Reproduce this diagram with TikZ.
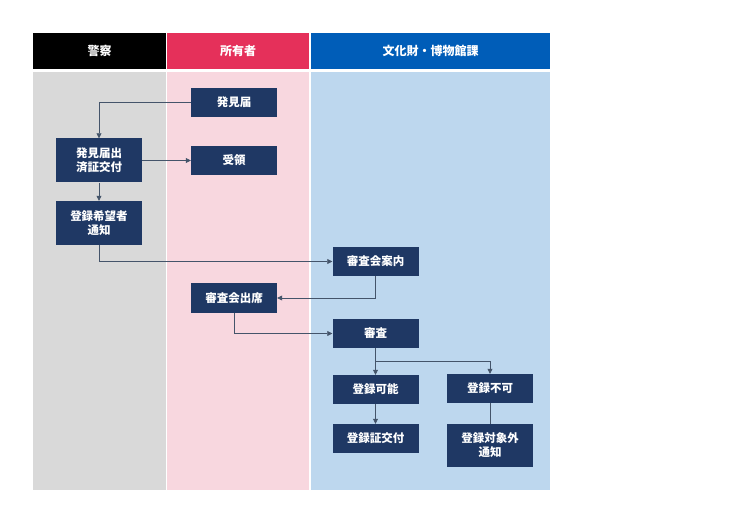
\documentclass[tikz,border=0pt]{standalone}
\usepackage{fontspec}
\newfontfamily\cjk{Noto Sans CJK JP}
\usetikzlibrary{arrows.meta}
\definecolor{navy}{HTML}{1F3864}
\definecolor{hdred}{HTML}{E5305A}
\definecolor{hdblue}{HTML}{005DB8}
\definecolor{bggray}{HTML}{D9D9D9}
\definecolor{bgpink}{HTML}{F8D7DF}
\definecolor{bgblue}{HTML}{BDD7EE}
\definecolor{linec}{HTML}{44546A}
\tikzset{
  box/.style={fill=navy, text=white, font=\cjk\bfseries\fontsize{11.5}{14}\selectfont, align=center, inner sep=0pt, minimum width=86pt, minimum height=29pt},
  hdr/.style={text=white, font=\cjk\bfseries\fontsize{12}{14}\selectfont},
  conn/.style={draw=linec, line width=0.7pt, -{Triangle[length=5pt,width=5pt]}},
  plain/.style={draw=linec, line width=0.7pt}
}
\begin{document}
\begin{tikzpicture}[x=1pt,y=-1pt]
\useasboundingbox (0,0) rectangle (740,524);
\fill[white] (0,0) rectangle (740,524);
% headers
\fill[black] (33,33) rectangle (166,69);
\fill[hdred] (167,33) rectangle (309,69);
\fill[hdblue] (311,33) rectangle (550,69);
\node[hdr] (h1) at (99.5,51) {警察};
\node[hdr] (h2) at (238,51) {所有者};
\node[hdr] (h3) at (430.5,51) {文化財・博物館課};
% lanes
\fill[bggray] (33,72) rectangle (166,490);
\fill[bgpink] (167,72) rectangle (309,490);
\fill[bgblue] (311,72) rectangle (550,490);
% nodes
\node[box] (hakken) at (234,102.5) {発見届};
\node[box] (juryo) at (234,160.5) {受領};
\node[box, minimum height=44pt] (kofu) at (99,160.5) {発見届出\\済証交付};
\node[box, minimum height=44pt] (tsuchi) at (99,223) {登録希望者\\通知};
\node[box] (annai) at (375.5,261.5) {審査会案内};
\node[box] (shusseki) at (234,298) {審査会出席};
\node[box] (shinsa) at (375.5,333.5) {審査};
\node[box] (kano) at (375.5,389.5) {登録可能};
\node[box] (fuka) at (490,388.5) {登録不可};
\node[box] (shosho) at (375.5,438.5) {登録証交付};
\node[box, minimum height=43pt] (taishogai) at (490,445.5) {登録対象外\\通知};
% connectors
\coordinate (c1) at (99,102.5);
\draw[conn] (hakken.west) -- (c1) -- (kofu.north);
\draw[conn] (kofu.east) -- (juryo.west);
\draw[conn] (kofu.south) -- (tsuchi.north);
\coordinate (c2) at (99,261.5);
\draw[conn] (tsuchi.south) -- (c2) -- (annai.west);
\coordinate (c3) at (375.5,298);
\draw[conn] (annai.south) -- (c3) -- (shusseki.east);
\coordinate (c4) at (234,333.5);
\draw[conn] (shusseki.south) -- (c4) -- (shinsa.west);
\coordinate (c5) at (375.5,361);
\coordinate (c6) at (490,361);
\draw[conn] (shinsa.south) -- (kano.north);
\draw[conn] (c5) -- (c6) -- (fuka.north);
\draw[conn] (kano.south) -- (shosho.north);
\draw[plain] (fuka.south) -- (taishogai.north);
\end{tikzpicture}
\end{document}
